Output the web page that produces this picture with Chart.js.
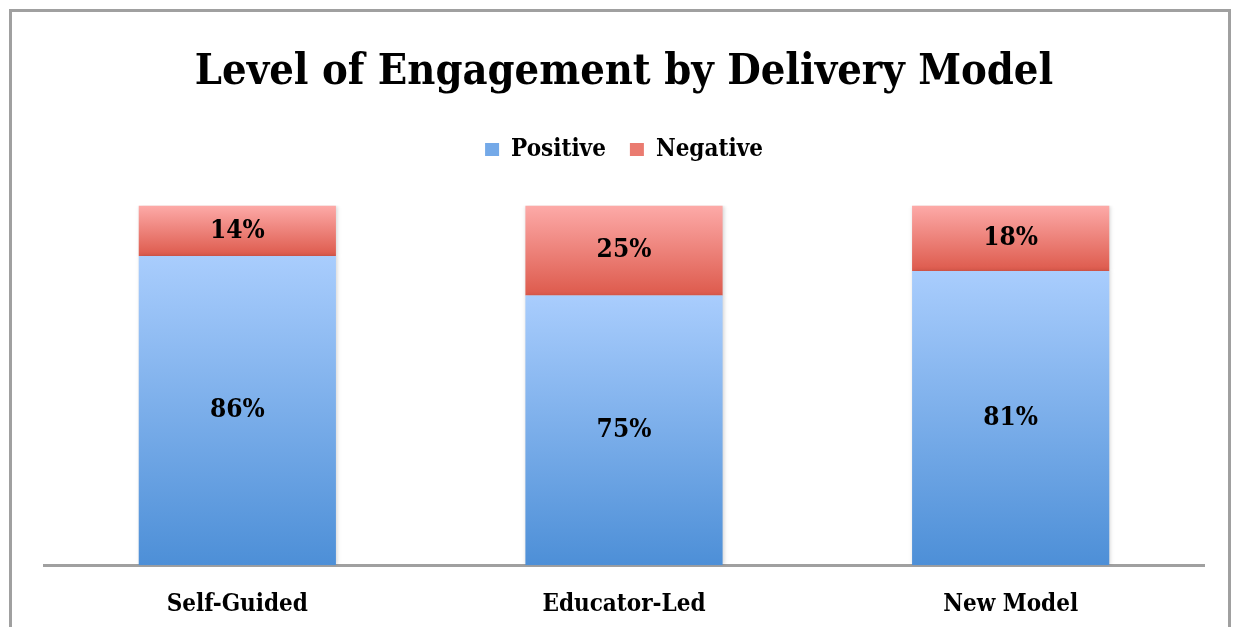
<!DOCTYPE html>
<html>
<head>
<meta charset="utf-8">
<script src="https://cdn.jsdelivr.net/npm/chart.js@4"></script>
<style>
  body { margin: 0; background: #fff; }
  #frame { position: absolute; left: 9px; top: 9px; width: 1216px; height: 660px; border: 3px solid #a0a0a0; }
  #wrap { position: absolute; left: 0; top: 0; width: 1234px; height: 627px; }
</style>
</head>
<body>
<div id="frame"></div>
<div id="wrap"><canvas id="chart"></canvas></div>
<script>
const categories = ['Self-Guided', 'Educator-Led', 'New Model'];
const positive = [86, 75, 81];
const negative = [14, 25, 18];

const serif = "'DejaVu Serif Condensed', 'DejaVu Serif', serif";

// 100% stacked: each bar is scaled to its own total
const totals = positive.map((p, i) => p + negative[i]);
const positiveShare = positive.map((p, i) => p / totals[i] * 100);
const negativeShare = negative.map((n, i) => n / totals[i] * 100);

// gradient colours per series (top, bottom)
const seriesColors = [
    ['#a9cdfd', '#4d8fd7'],
    ['#fdaaa8', '#dd5a4c']
];
const legendColors = ['#74a9e8', '#ea7b70'];

function segmentGradient(context) {
    const chart = context.chart;
    const i = context.datasetIndex;
    if (!chart.chartArea || context.dataIndex === undefined) return seriesColors[i][1];
    const y = chart.scales.y;
    const j = context.dataIndex;
    const start = i === 0 ? 0 : positiveShare[j];
    const end = i === 0 ? positiveShare[j] : 100;
    const g = chart.ctx.createLinearGradient(0, y.getPixelForValue(end), 0, y.getPixelForValue(start));
    g.addColorStop(0, seriesColors[i][0]);
    g.addColorStop(1, seriesColors[i][1]);
    return g;
}

// percentage labels in the middle of each segment
const valueLabels = {
    id: 'valueLabels',
    afterDatasetsDraw(chart) {
        const ctx = chart.ctx;
        const shown = [positive, negative];
        ctx.save();
        ctx.font = 'bold 26px ' + serif;
        ctx.fillStyle = '#000';
        ctx.textAlign = 'center';
        ctx.textBaseline = 'middle';
        chart.data.datasets.forEach((ds, i) => {
            chart.getDatasetMeta(i).data.forEach((bar, j) => {
                ctx.fillText(shown[i][j] + '%', bar.x, (bar.y + bar.base) / 2);
            });
        });
        ctx.restore();
    }
};

// soft shadow on the bars
const barShadow = {
    id: 'barShadow',
    beforeDatasetDraw(chart) {
        const ctx = chart.ctx;
        ctx.save();
        ctx.shadowColor = 'rgba(0,0,0,0.18)';
        ctx.shadowBlur = 4;
        ctx.shadowOffsetX = 1;
    },
    afterDatasetDraw(chart) {
        chart.ctx.restore();
    }
};

// extra room under the legend
const legendGap = {
    id: 'legendGap',
    beforeInit(chart) {
        const fit = chart.legend.fit;
        chart.legend.fit = function () {
            fit.bind(chart.legend)();
            this.height += 34;
        };
    }
};

new Chart(document.getElementById('chart'), {
    type: 'bar',
    data: {
        labels: categories,
        datasets: [
            { label: 'Positive', data: positiveShare, backgroundColor: segmentGradient },
            { label: 'Negative', data: negativeShare, backgroundColor: segmentGradient }
        ]
    },
    options: {
        responsive: true,
        maintainAspectRatio: false,
        animation: false,
        layout: { padding: { left: 44, right: 30, top: 0, bottom: 10 } },
        datasets: { bar: { barPercentage: 0.51, categoryPercentage: 1 } },
        scales: {
            x: {
                stacked: true,
                grid: { display: false, drawTicks: false },
                border: { display: true, color: '#a0a0a0', width: 3 },
                ticks: { color: '#000', padding: 25, font: { family: serif, size: 24, weight: 'bold' } },
                afterFit(scale) { scale.height -= 27; }
            },
            y: {
                stacked: true,
                display: false,
                min: 0,
                max: 100
            }
        },
        plugins: {
            title: {
                display: true,
                text: 'Level of Engagement by Delivery Model',
                color: '#000',
                font: { family: serif, size: 43, weight: 'bold' },
                padding: { top: 47, bottom: 15 }
            },
            legend: {
                labels: {
                    color: '#000',
                    boxWidth: 14,
                    boxHeight: 13,
                    padding: 24,
                    font: { family: serif, size: 24, weight: 'bold' },
                    generateLabels(chart) {
                        return chart.data.datasets.map((ds, i) => ({
                            text: ds.label,
                            fillStyle: legendColors[i],
                            strokeStyle: 'transparent',
                            lineWidth: 0,
                            datasetIndex: i
                        }));
                    }
                }
            },
            tooltip: { enabled: false }
        }
    },
    plugins: [legendGap, barShadow, valueLabels]
});
</script>
</body>
</html>
